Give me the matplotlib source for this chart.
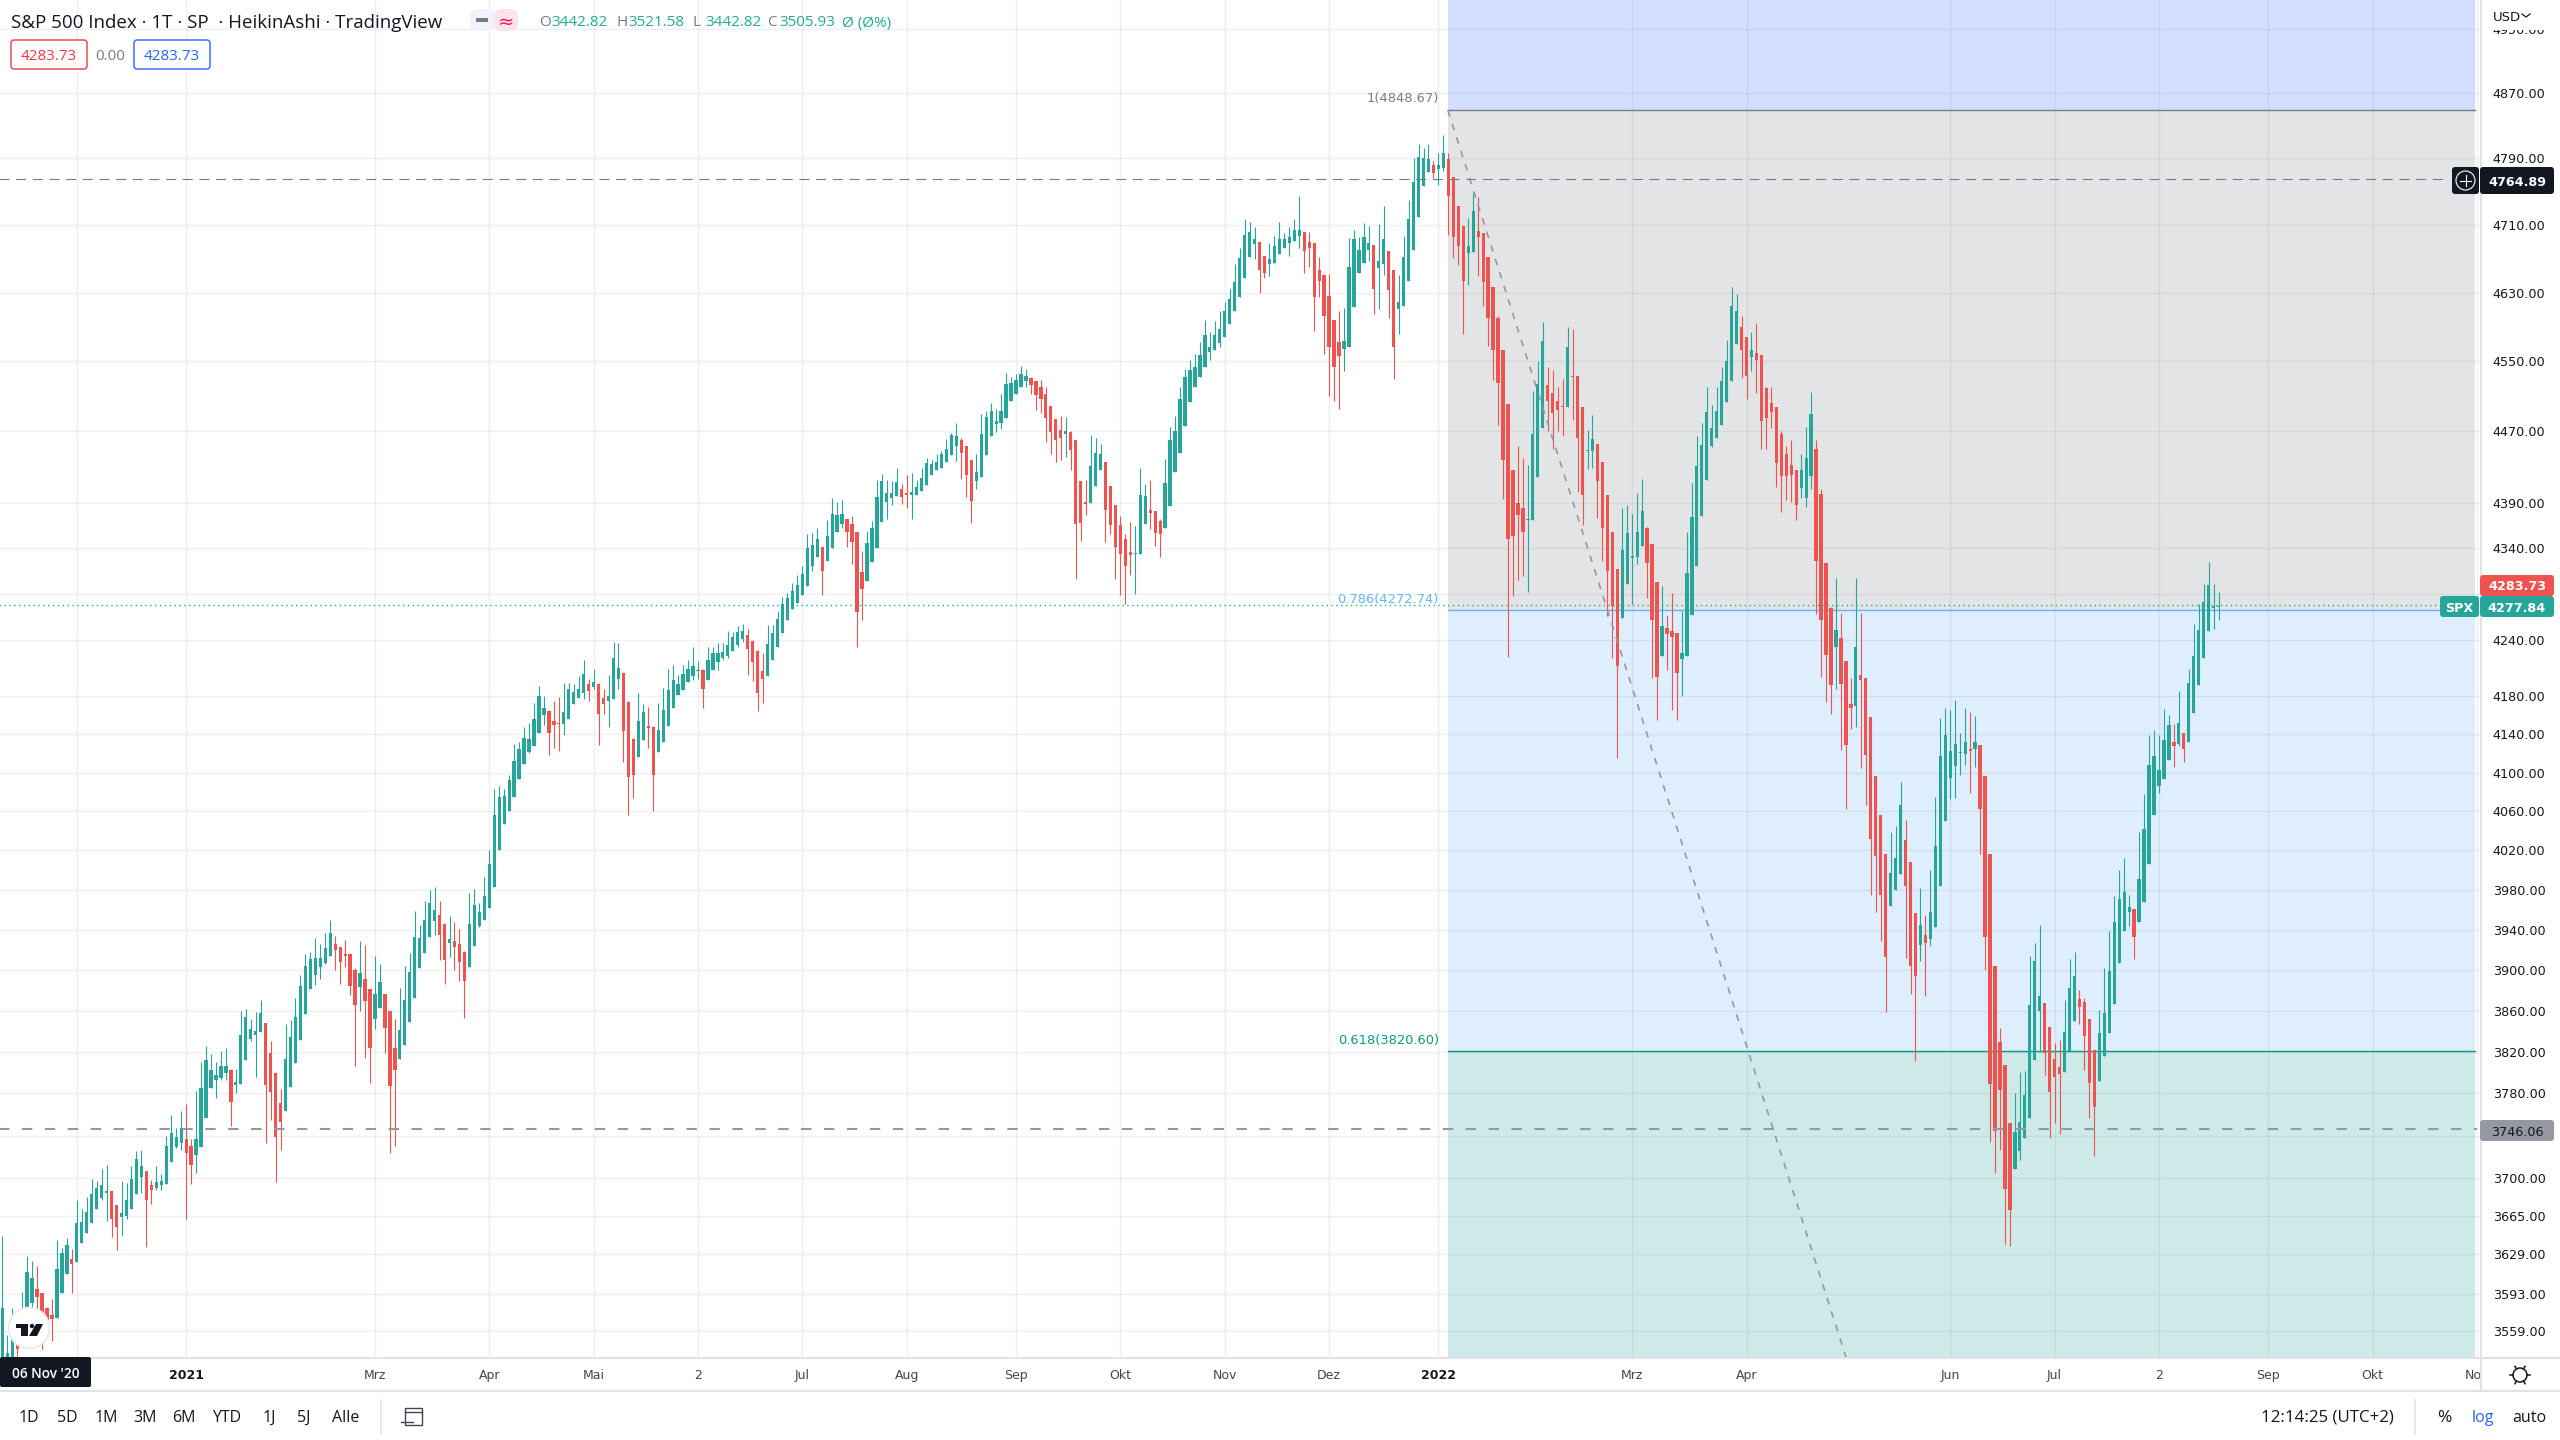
###### IMPORTS ######

import numpy as np
import matplotlib
matplotlib.use("Agg")
import matplotlib.pyplot as plt
from matplotlib.patches import Circle, FancyBboxPatch, Polygon, Rectangle

###### DATA ######

# daily Heikin Ashi candles
opens = [
    3530,3535,3530,3547,3555,3578,3585,3597,3594,3580,
    3574,3571,3594,3611,3625,3622,3640,3649,3658,3671,
    3681,3686,3688,3675,3664,3665,3671,3685,3701,3707,
    3693,3691,3693,3694,3715,3729,3733,3737,3730,3722,
    3729,3757,3785,3793,3795,3800,3803,3788,3789,3812,
    3833,3836,3839,3848,3819,3800,3771,3763,3786,3809,
    3832,3857,3881,3895,3903,3907,3914,3926,3923,3916,
    3916,3900,3883,3891,3881,3852,3863,3876,3860,3824,
    3813,3827,3849,3873,3902,3917,3933,3949,3955,3946,
    3927,3929,3926,3918,3903,3924,3944,3950,3962,3983,
    4020,4047,4060,4075,4093,4109,4121,4128,4141,4160,
    4164,4154,4152,4151,4156,4172,4178,4183,4193,4190,
    4193,4178,4175,4177,4198,4205,4174,4135,4116,4134,
    4149,4148,4121,4132,4149,4168,4181,4187,4195,4202,
    4207,4208,4197,4208,4216,4221,4223,4228,4235,4241,
    4245,4239,4228,4207,4202,4219,4233,4248,4262,4273,
    4280,4289,4298,4320,4330,4341,4326,4340,4358,4366,
    4372,4366,4358,4314,4304,4325,4340,4369,4391,4395,
    4397,4405,4401,4399,4399,4403,4410,4421,4427,4429,
    4436,4443,4453,4460,4453,4438,4414,4419,4443,4465,
    4478,4479,4485,4504,4513,4520,4527,4531,4527,4521,
    4513,4499,4484,4472,4467,4469,4460,4414,4391,4390,
    4409,4427,4435,4409,4388,4365,4350,4336,4333,4333,
    4366,4382,4381,4370,4362,4386,4424,4446,4476,4503,
    4521,4532,4544,4561,4563,4571,4578,4593,4608,4625,
    4647,4672,4687,4690,4673,4663,4665,4675,4683,4688,
    4691,4697,4702,4690,4688,4657,4651,4626,4598,4572,
    4564,4567,4613,4653,4665,4680,4686,4659,4663,4679,
    4656,4611,4614,4643,4680,4720,4756,4773,4782,4777,
    4778,4789,4767,4732,4709,4677,4678,4703,4700,4672,
    4636,4600,4563,4501,4426,4390,4384,4371,4371,4419,
    4474,4523,4514,4505,4499,4498,4533,4533,4498,4448,
    4448,4456,4436,4399,4358,4317,4264,4301,4329,4330,
    4342,4362,4344,4303,4223,4253,4250,4247,4220,4223,
    4267,4320,4375,4415,4453,4463,4477,4503,4527,4570,
    4590,4578,4555,4560,4557,4519,4502,4498,4467,4444,
    4432,4427,4406,4395,4420,4450,4400,4324,4275,4233,
    4242,4217,4172,4170,4203,4199,4158,4096,4056,4016,
    3964,3980,3996,4031,4008,3957,3925,3935,3931,3943,
    3984,4050,4094,4107,4120,4119,4125,4125,4129,4096,
    4016,3904,3830,3807,3752,3708,3725,3738,3757,3812,
    3860,3868,3844,3813,3805,3801,3821,3850,3872,3869,
    3852,3822,3792,3816,3838,3867,3907,3939,3958,3961,
    3948,3968,4006,4056,4086,4093,4113,4132,4130,4141,
    4132,4162,4192,4221,4250,4275,4276,
]
highs = [
    3646,3556,3580,3555,3595,3628,3623,3618,3594,3581,
    3588,3642,3635,3644,3634,3679,3671,3682,3699,3697,
    3708,3712,3688,3675,3697,3695,3711,3725,3726,3707,
    3698,3711,3704,3740,3759,3747,3763,3770,3737,3782,
    3810,3826,3818,3810,3821,3824,3804,3804,3860,3862,
    3852,3859,3871,3848,3831,3801,3784,3847,3851,3873,
    3895,3916,3918,3932,3926,3937,3950,3934,3923,3930,
    3917,3902,3929,3925,3881,3914,3906,3876,3860,3852,
    3882,3904,3917,3959,3945,3969,3980,3983,3969,3947,
    3954,3948,3941,3919,3977,3981,3967,3993,4020,4083,
    4086,4083,4098,4130,4132,4148,4152,4173,4191,4180,
    4165,4175,4179,4194,4194,4193,4201,4219,4198,4209,
    4194,4188,4203,4238,4237,4206,4175,4136,4184,4172,
    4169,4149,4173,4189,4209,4213,4203,4213,4219,4233,
    4217,4209,4233,4232,4237,4237,4250,4249,4255,4257,
    4252,4240,4229,4226,4256,4256,4271,4286,4291,4302,
    4310,4320,4355,4356,4362,4341,4371,4395,4391,4393,
    4372,4375,4358,4337,4359,4370,4415,4422,4415,4414,
    4429,4411,4421,4423,4415,4429,4440,4438,4445,4448,
    4461,4468,4480,4462,4454,4438,4444,4490,4493,4502,
    4495,4513,4537,4532,4536,4545,4541,4532,4527,4529,
    4520,4499,4484,4487,4486,4471,4460,4414,4415,4466,
    4463,4456,4435,4409,4388,4375,4355,4369,4364,4429,
    4411,4415,4381,4372,4439,4475,4488,4520,4541,4551,
    4559,4572,4598,4584,4597,4608,4619,4634,4663,4683,
    4717,4713,4708,4690,4673,4688,4697,4713,4700,4708,
    4717,4744,4702,4702,4688,4672,4651,4652,4598,4608,
    4612,4694,4704,4695,4712,4709,4686,4711,4732,4679,
    4656,4651,4697,4740,4791,4807,4803,4808,4787,4796,
    4818,4797,4767,4732,4709,4718,4748,4743,4700,4672,
    4636,4602,4563,4501,4426,4453,4440,4432,4516,4550,
    4596,4543,4540,4521,4530,4590,4588,4533,4498,4472,
    4489,4456,4436,4399,4358,4317,4384,4388,4378,4401,
    4416,4363,4344,4303,4298,4267,4291,4247,4271,4358,
    4412,4465,4480,4521,4500,4520,4544,4575,4637,4628,
    4602,4578,4584,4594,4557,4521,4520,4498,4471,4453,
    4460,4427,4444,4475,4515,4460,4405,4325,4276,4307,
    4269,4217,4199,4307,4269,4199,4158,4096,4056,4016,
    4039,4045,4090,4051,4008,3957,3982,3955,4000,4075,
    4157,4168,4166,4176,4141,4168,4163,4159,4129,4096,
    4016,3904,3843,3807,3752,3780,3801,3802,3914,3927,
    3945,3868,3844,3829,3832,3871,3911,3918,3880,3873,
    3852,3822,3861,3902,3939,3974,4000,4012,3975,3961,
    4039,4078,4139,4144,4139,4167,4160,4151,4186,4141,
    4209,4257,4279,4301,4325,4301,4292,
]
lows = [
    3510,3530,3525,3525,3550,3575,3580,3578,3543,3560,
    3550,3571,3594,3611,3594,3622,3640,3649,3658,3671,
    3679,3660,3645,3633,3646,3662,3671,3685,3686,3636,
    3676,3689,3689,3694,3715,3728,3726,3662,3694,3705,
    3729,3757,3785,3776,3793,3793,3749,3780,3789,3812,
    3831,3796,3839,3733,3755,3696,3726,3763,3786,3809,
    3832,3857,3881,3885,3891,3906,3914,3900,3886,3903,
    3875,3806,3860,3814,3790,3842,3863,3819,3723,3730,
    3813,3827,3849,3873,3902,3917,3933,3935,3910,3886,
    3913,3900,3889,3853,3903,3924,3943,3950,3962,3983,
    4020,4047,4060,4075,4093,4109,4120,4128,4141,4150,
    4118,4126,4123,4139,4156,4172,4178,4177,4175,4188,
    4129,4161,4148,4177,4188,4111,4056,4074,4116,4134,
    4126,4060,4121,4132,4149,4168,4181,4187,4195,4197,
    4198,4168,4197,4208,4208,4219,4221,4228,4233,4238,
    4203,4196,4164,4173,4202,4219,4233,4248,4262,4273,
    4280,4289,4298,4315,4330,4289,4326,4340,4358,4362,
    4341,4322,4233,4262,4304,4325,4340,4369,4372,4387,
    4397,4389,4384,4372,4399,4403,4410,4421,4427,4429,
    4435,4443,4437,4417,4396,4367,4405,4419,4443,4465,
    4469,4473,4485,4504,4513,4520,4521,4512,4494,4491,
    4458,4445,4435,4438,4441,4427,4306,4348,4376,4390,
    4409,4427,4346,4355,4306,4289,4279,4310,4290,4333,
    4366,4361,4342,4330,4362,4386,4424,4446,4476,4503,
    4521,4532,4544,4551,4563,4567,4578,4593,4608,4625,
    4647,4672,4670,4630,4647,4650,4665,4675,4683,4673,
    4691,4682,4653,4660,4585,4625,4559,4510,4504,4495,
    4539,4567,4613,4653,4665,4667,4605,4611,4651,4600,
    4530,4582,4614,4643,4680,4720,4756,4773,4766,4758,
    4775,4698,4671,4662,4582,4639,4678,4650,4614,4568,
    4529,4477,4394,4222,4287,4305,4309,4292,4371,4419,
    4474,4470,4450,4470,4465,4498,4483,4402,4365,4428,
    4429,4373,4326,4266,4221,4115,4264,4301,4279,4322,
    4342,4285,4199,4155,4223,4208,4165,4155,4180,4223,
    4267,4320,4375,4415,4452,4463,4477,4503,4527,4570,
    4531,4507,4539,4514,4450,4450,4474,4408,4380,4393,
    4391,4371,4395,4385,4405,4268,4200,4174,4161,4188,
    4124,4062,4146,4148,4105,4067,3975,3958,3929,3859,
    3964,3980,3996,3912,3876,3811,3909,3874,3924,3943,
    3984,4050,4073,4074,4098,4108,4079,4106,4016,3900,
    3734,3705,3726,3639,3637,3708,3717,3738,3757,3812,
    3820,3798,3738,3752,3741,3801,3821,3850,3847,3803,
    3757,3721,3792,3816,3838,3867,3907,3939,3944,3911,
    3948,3968,4006,4056,4079,4093,4113,4106,4128,4111,
    4132,4162,4192,4221,4250,4252,4261,
]
closes = [
    3580,3540,3553,3543,3575,3613,3607,3590,3568,3564,
    3570,3616,3630,3638,3620,3658,3659,3668,3685,3691,
    3693,3688,3662,3654,3667,3679,3699,3718,3711,3679,
    3689,3696,3697,3730,3742,3739,3747,3723,3712,3737,
    3785,3812,3803,3798,3806,3806,3772,3791,3836,3854,
    3842,3840,3858,3788,3781,3739,3753,3813,3834,3854,
    3884,3904,3911,3912,3912,3922,3937,3920,3908,3914,
    3884,3866,3897,3870,3824,3876,3888,3843,3787,3803,
    3841,3871,3898,3933,3932,3950,3967,3960,3935,3910,
    3931,3923,3908,3889,3946,3965,3958,3974,4006,4056,
    4075,4076,4092,4112,4125,4136,4135,4156,4180,4168,
    4141,4150,4151,4163,4188,4185,4188,4204,4186,4195,
    4161,4172,4180,4221,4210,4143,4095,4097,4154,4163,
    4147,4097,4144,4166,4187,4197,4193,4204,4209,4212,
    4208,4188,4219,4226,4226,4227,4235,4243,4249,4250,
    4230,4216,4183,4198,4236,4248,4263,4279,4285,4293,
    4300,4311,4340,4343,4350,4315,4353,4377,4376,4377,
    4358,4346,4270,4295,4345,4362,4396,4414,4401,4401,
    4413,4396,4399,4402,4407,4418,4434,4433,4436,4444,
    4450,4466,4465,4446,4421,4392,4424,4467,4486,4493,
    4482,4493,4524,4525,4528,4535,4533,4523,4511,4507,
    4485,4469,4460,4462,4470,4449,4366,4368,4389,4431,
    4446,4444,4382,4365,4341,4333,4320,4332,4334,4399,
    4398,4379,4357,4355,4412,4460,4471,4507,4532,4540,
    4543,4557,4580,4566,4580,4588,4608,4622,4642,4671,
    4698,4702,4693,4657,4653,4669,4685,4693,4693,4696,
    4704,4704,4679,4683,4625,4644,4602,4566,4544,4556,
    4573,4660,4693,4680,4695,4689,4634,4667,4693,4633,
    4567,4619,4672,4717,4762,4792,4791,4789,4772,4782,
    4797,4745,4695,4685,4644,4685,4727,4695,4642,4600,
    4563,4525,4438,4350,4353,4376,4358,4372,4467,4524,
    4573,4505,4491,4494,4498,4567,4532,4462,4399,4449,
    4461,4414,4362,4315,4277,4212,4338,4356,4331,4358,
    4381,4323,4262,4200,4255,4246,4243,4205,4226,4313,
    4374,4431,4455,4492,4474,4493,4527,4550,4614,4608,
    4563,4533,4563,4551,4482,4485,4492,4434,4420,4420,
    4421,4388,4427,4440,4490,4326,4261,4224,4192,4251,
    4193,4129,4168,4233,4197,4118,4032,4014,3975,3913,
    3997,4012,4066,3984,3904,3894,3945,3927,3958,4025,
    4117,4139,4122,4130,4121,4132,4123,4132,4062,3933,
    3789,3744,3783,3690,3670,3743,3753,3779,3866,3909,
    3874,3819,3781,3796,3799,3839,3882,3894,3864,3835,
    3790,3767,3838,3858,3899,3948,3971,3978,3963,3933,
    3991,4042,4108,4117,4103,4134,4150,4128,4152,4125,
    4194,4223,4251,4281,4299,4277,4277,
]

price_ticks = [4950, 4870, 4790, 4710, 4630, 4550, 4470, 4390, 4340, 4290, 4240, 4180,
               4140, 4100, 4060, 4020, 3980, 3940, 3900, 3860, 3820, 3780, 3740, 3700,
               3665, 3629, 3593, 3559]
time_ticks = [15, 37, 75, 98, 119, 140, 161, 182, 204, 225, 246, 267, 289,
              328, 351, 392, 413, 434, 456, 477, 498]
# the first grid line has its label hidden by the date chip
time_labels = ['', '2021', 'Mrz', 'Apr', 'Mai', '2', 'Jul', 'Aug', 'Sep', 'Okt', 'Nov', 'Dez', '2022',
               'Mrz', 'Apr', 'Jun', 'Jul', '2', 'Sep', 'Okt', 'Nov']

fib_levels = [4848.67, 4272.74, 3820.60]
fib_names = ['1(4848.67)', '0.786(4272.74)', '0.618(3820.60)']
fib_colors = ['#787b86', '#64b5f6', '#089981']
band_colors = ['#d1defe', '#e3e4e6', '#dfeefc', '#cdeae8']

range_buttons = ['1D', '5D', '1M', '3M', '6M', 'YTD', '1J', '5J', 'Alle']
button_x = [29, 67, 106, 145, 184, 227, 269, 304, 346]

crosshair_price = 4764.89
last_price = 4277.84
line_price = 3746.06
fib_start = 290.9
fib_end = 497.6
trend_end = 371

UP = '#26a69a'
DOWN = '#ef5350'
INK = '#131722'
GRID = '#2a2e39'
BORDER = '#e0e3eb'

###### FIGURE ######

fig = plt.figure(figsize=(25.6, 14.4), dpi=100, facecolor='white')
ax = fig.add_axes([0, 83 / 1440, 2480 / 2560, 1357 / 1440])
ax.set_yscale('log')
ax.set_ylim(3536, 4986)
ax.set_xlim(-0.46, 498.6)
for spine in ax.spines.values():
    spine.set_visible(False)

# fib bands sit under the grid so the grid still shows through
levels = [ax.get_ylim()[1]] + fib_levels + [ax.get_ylim()[0]]
for i, color in enumerate(band_colors):
    ax.fill_between([fib_start, fib_end], levels[i + 1], levels[i], color=color, lw=0, zorder=0)
for level, color in zip(fib_levels, fib_colors):
    ax.plot([fib_start, fib_end], [level, level], color=color, lw=1.0, zorder=2)

ax.set_yticks(price_ticks)
ax.set_yticklabels([f'{p:.2f}' for p in price_ticks])
ax.yaxis.set_minor_locator(matplotlib.ticker.NullLocator())
ax.yaxis.tick_right()
ax.tick_params(axis='y', length=0, pad=9.2, labelsize=9.2, labelcolor=INK)
ax.set_xticks(time_ticks)
ax.set_xticklabels(time_labels)
ax.tick_params(axis='x', length=0, pad=8.5, labelsize=9, labelcolor='#434651')
for label, text in zip(ax.get_xticklabels(), time_labels):
    if text in ('2021', '2022'):
        label.set_fontweight('bold')
        label.set_color(INK)
ax.grid(True, color=GRID, alpha=0.07, lw=1.0, zorder=1)
ax.set_axisbelow(True)

# candles
idx = np.arange(len(closes))
o = np.array(opens, dtype=float)
h = np.array(highs, dtype=float)
l = np.array(lows, dtype=float)
c = np.array(closes, dtype=float)
colors = np.where(c >= o, UP, DOWN)
ax.vlines(idx, l, h, colors=colors, lw=0.8, zorder=3)
ax.bar(idx, np.abs(c - o), bottom=np.minimum(o, c), width=0.66, color=colors, lw=0, zorder=4,
       antialiased=False)

# price lines and the fib trend line
ax.plot([fib_start, trend_end], [fib_levels[0], levels[-1]], color='#9598a1', lw=1.2,
        dashes=(4, 4.5), zorder=5)
ax.plot([-1, 492], [crosshair_price, crosshair_price], color='#787b86', lw=0.8, dashes=(9, 6), zorder=5)
ax.plot([-1, 490], [last_price, last_price], color=UP, lw=1.0, dashes=(1, 2.5), zorder=5)
ax.plot([-1, 498], [line_price, line_price], color='#9598a1', lw=1.5, dashes=(5, 6), zorder=5)

###### OVERLAY ######

# everything around the plot is laid out in screen pixels
ov = fig.add_axes([0, 0, 1, 1], zorder=5)
ov.set_xlim(0, 2560)
ov.set_ylim(1440, 0)
ov.axis('off')


def add_chip(x0, x1, y0, y1, face, edge='none', text=None, color='white', size=9.2, round_px=3, **kw):
    ov.add_patch(FancyBboxPatch((x0, y0), x1 - x0, y1 - y0, facecolor=face, edgecolor=edge, lw=1.0,
                                boxstyle=f'round,pad=0,rounding_size={round_px}', zorder=3))
    if text:
        ov.text((x0 + x1) / 2, (y0 + y1) / 2, text, color=color, fontsize=size, ha='center',
                va='center_baseline', zorder=4, **kw)


# axis frames
ov.add_patch(Rectangle((2481, 0), 79, 30, facecolor='white', lw=0, zorder=1))
ov.add_patch(Rectangle((2481, 1358), 79, 82, facecolor='white', lw=0, zorder=1))
ov.plot([2480.5, 2480.5], [0, 1391], color=BORDER, lw=1.5, zorder=2)
ov.plot([0, 2560], [1357.5, 1357.5], color=BORDER, lw=1.5, zorder=2)
ov.plot([0, 2560], [1391, 1391], color=BORDER, lw=1.5, zorder=2)

# header
HEAD = 'Open Sans'
ov.text(11, 21, 'S&P 500 Index · 1T · SP  · HeikinAshi · TradingView', family=HEAD, fontsize=13.5,
        color=INK, va='center_baseline', zorder=4)
add_chip(470, 496, 9, 31, '#f0f3fa', round_px=8)
add_chip(494, 518, 9, 31, '#fce4ec', round_px=8)
ov.add_patch(Rectangle((476, 18), 12, 4, facecolor='#787b86', lw=0, zorder=4))
ov.text(506, 20, '≈', fontsize=14, color='#e91e63', ha='center', va='center_baseline', zorder=4)
ohlc_x = [539, 616, 693, 767]
ohlc_keys = ['O', 'H', 'L', 'C']
ohlc_vals = ['3442.82', '3521.58', '3442.82', '3505.93']
for x, key, val in zip(ohlc_x, ohlc_keys, ohlc_vals):
    ov.text(x, 21, key, family=HEAD, fontsize=11, color='#787b86', va='center_baseline', zorder=4)
    ov.text(x + 12, 21, val, family=HEAD, fontsize=11, color='#22ab94', va='center_baseline', zorder=4)
ov.text(842, 21, 'Ø (Ø%)', family=HEAD, fontsize=11, color='#22ab94', va='center_baseline', zorder=4)
add_chip(11, 87, 40, 69, 'white', edge='#f23645', text='4283.73', color='#f23645', size=11, family=HEAD)
ov.text(110, 55, '0.00', family=HEAD, fontsize=11, color='#787b86', ha='center', va='center_baseline', zorder=4)
add_chip(134, 210, 40, 69, 'white', edge='#2962ff', text='4283.73', color='#2962ff', size=11, family=HEAD)

# fib level captions
caption_y = [97, 598, 1039]
for y, name, color in zip(caption_y, fib_names, fib_colors):
    ov.text(1439, y, name, fontsize=9.4, color=color, ha='right', va='center_baseline', zorder=4)

# price axis chips
ov.text(2493, 16, 'USD', fontsize=9.5, color=INK, va='center_baseline', zorder=4)
ov.plot([2522, 2526, 2530], [14, 17, 14], color=INK, lw=0.9, zorder=4)
add_chip(2480, 2554, 167, 194, INK, text='4764.89', weight='bold')
add_chip(2452, 2479, 167, 194, INK)
ov.add_patch(Circle((2465.5, 180.5), 9.5, facecolor='none', edgecolor='white', lw=0.8, zorder=5))
ov.plot([2460, 2471], [180.5, 180.5], color='white', lw=0.8, zorder=5)
ov.plot([2465.5, 2465.5], [175, 186], color='white', lw=0.8, zorder=5)
add_chip(2480, 2554, 575, 596, '#ef5350', text='4283.73', weight='bold')
add_chip(2480, 2554, 596, 617, UP, text='4277.84', weight='bold')
add_chip(2440, 2479, 596, 617, UP, text='SPX', weight='bold')
add_chip(2480, 2554, 1120, 1141, '#9598a1', text='3746.06', color=INK)

# date chip and gear
add_chip(0, 91, 1357, 1387, INK, text="06 Nov '20", size=9.8, family=HEAD, round_px=2, weight='semibold')
ov.add_patch(Circle((2520, 1375), 7, facecolor='none', edgecolor=INK, lw=1.1, zorder=4))
for a in np.arange(0, 360, 60):
    ca, sa = np.cos(np.radians(a)), np.sin(np.radians(a))
    ov.plot([2520 + 7 * ca, 2520 + 10 * ca], [1375 + 7 * sa, 1375 + 10 * sa], color=INK, lw=1.1, zorder=4)

# watermark
ov.add_patch(Circle((29, 1328), 20.5, facecolor='white', edgecolor='#e9e9ec', lw=1.2, zorder=3))
ov.add_patch(Polygon([(16, 1324), (28, 1324), (28, 1336), (21, 1336), (21, 1328), (16, 1328)],
                     facecolor=INK, lw=0, zorder=4))
ov.add_patch(Circle((32, 1326), 2.2, facecolor=INK, lw=0, zorder=4))
ov.add_patch(Polygon([(36, 1324), (43, 1324), (37, 1336), (29, 1336)], facecolor=INK, lw=0, zorder=4))

# bottom toolbar
for x, text in zip(button_x, range_buttons):
    ov.text(x, 1416, text, family=HEAD, fontsize=11.5, color=INK, ha='center', va='center_baseline', zorder=4)
ov.plot([381, 381], [1400, 1434], color=BORDER, lw=1.2, zorder=2)
ov.add_patch(Rectangle((405, 1408), 17, 17, facecolor='none', edgecolor='#434651', lw=1.0, zorder=4))
ov.plot([405, 422], [1412, 1412], color='#434651', lw=1.0, zorder=4)
ov.plot([401, 413], [1422, 1422], color='#434651', lw=1.0, zorder=4)
ov.plot([2414.5, 2414.5], [1400, 1434], color=BORDER, lw=1.2, zorder=2)
ov.text(2394, 1416, '12:14:25 (UTC+2)', family=HEAD, fontsize=12.2, color=INK, ha='right',
        va='center_baseline', zorder=4)
ov.text(2444, 1416, '%', family=HEAD, fontsize=12.5, color=INK, ha='center', va='center_baseline', zorder=4)
ov.text(2483, 1416, 'log', family=HEAD, fontsize=11.5, color='#2962ff', ha='center', va='center_baseline', zorder=4)
ov.text(2529, 1416, 'auto', family=HEAD, fontsize=11.5, color=INK, ha='center', va='center_baseline', zorder=4)

fig.savefig('out.png', dpi=100, facecolor='white')
